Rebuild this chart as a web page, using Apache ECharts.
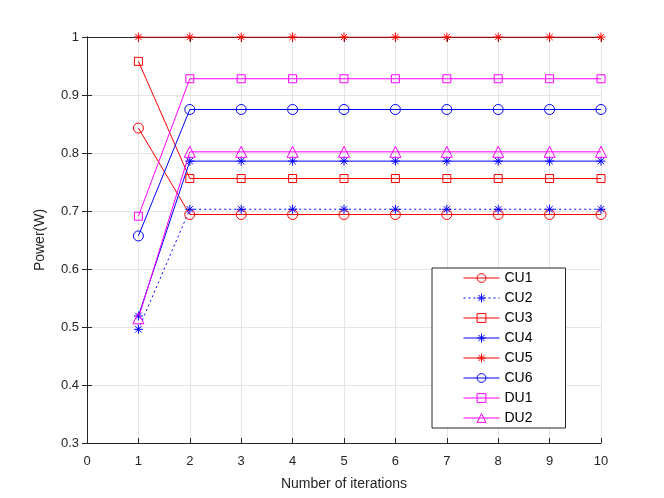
<!DOCTYPE html>
<html>
<head>
<meta charset="utf-8">
<script src="https://cdn.jsdelivr.net/npm/echarts@6/dist/echarts.min.js"></script>
<style>
  html, body { margin: 0; padding: 0; background: #fff; }
  #chart { width: 664px; height: 498px; }
</style>
</head>
<body>
<div id="chart"></div>
<script>
// iterations on the x axis
var iterations = [1, 2, 3, 4, 5, 6, 7, 8, 9, 10];

// power values
var cu1 = [0.843, 0.694, 0.694, 0.694, 0.694, 0.694, 0.694, 0.694, 0.694, 0.694];
var cu2 = [0.496, 0.703, 0.703, 0.703, 0.703, 0.703, 0.703, 0.703, 0.703, 0.703];
var cu3 = [0.958, 0.756, 0.756, 0.756, 0.756, 0.756, 0.756, 0.756, 0.756, 0.756];
var cu4 = [0.519, 0.786, 0.786, 0.786, 0.786, 0.786, 0.786, 0.786, 0.786, 0.786];
var cu5 = [1, 1, 1, 1, 1, 1, 1, 1, 1, 1];
var cu6 = [0.657, 0.875, 0.875, 0.875, 0.875, 0.875, 0.875, 0.875, 0.875, 0.875];
var du1 = [0.691, 0.928, 0.928, 0.928, 0.928, 0.928, 0.928, 0.928, 0.928, 0.928];
var du2 = [0.515, 0.802, 0.802, 0.802, 0.802, 0.802, 0.802, 0.802, 0.802, 0.802];

var xTicks = [0, 1, 2, 3, 4, 5, 6, 7, 8, 9, 10];
var yTicks = [0.3, 0.4, 0.5, 0.6, 0.7, 0.8, 0.9, 1];

var RED = '#ff0000', BLUE = '#0000ff', MAG = '#ff00ff';
var STAR = 'path://M5 0L5 10M0 5L10 5M1.5 1.5L8.5 8.5M8.5 1.5L1.5 8.5';
var FONT = 'Liberation Sans, Arial, Helvetica, sans-serif';

function pairs(vals) {
    return iterations.map(function (x, i) { return [x, vals[i]]; });
}

function mkSeries(name, vals, color, symbol, size, dotted) {
    var star = symbol === STAR;
    return {
        name: name,
        type: 'line',
        data: pairs(vals),
        symbol: symbol,
        symbolSize: size,
        showAllSymbol: true,
        animation: false,
        lineStyle: { color: color, width: 1, type: dotted ? [2, 3] : 'solid' },
        itemStyle: {
            color: star ? 'rgba(0,0,0,0)' : 'rgba(255,255,255,0)',
            borderColor: color,
            borderWidth: 1
        },
        emphasis: { disabled: true }
    };
}

var chart = echarts.init(document.getElementById('chart'));

var axisLine = { show: true, lineStyle: { color: '#262626', width: 1 } };
var tick = { show: true, inside: true, length: 5, lineStyle: { color: '#262626' } };

var option = {
    backgroundColor: '#fff',
    textStyle: { fontFamily: FONT },
    grid: { left: 87, right: 63, top: 37, bottom: 55 },
    legend: {
        orient: 'vertical',
        left: 432,
        top: 268,
        padding: [3, 33, 3, 31],
        itemGap: 6,
        itemWidth: 36,
        itemHeight: 11,
        backgroundColor: '#fff',
        borderColor: '#262626',
        borderWidth: 1,
        borderRadius: 0,
        lineStyle: { width: 1 },
        itemStyle: { borderWidth: 1 },
        textStyle: { fontSize: 14, color: '#000', fontFamily: FONT },
        data: ['CU1', 'CU2', 'CU3', 'CU4', 'CU5', 'CU6', 'DU1', 'DU2']
    },
    xAxis: [{
        type: 'value',
        min: xTicks[0],
        max: xTicks[xTicks.length - 1],
        interval: 1,
        name: 'Number of iterations',
        nameLocation: 'middle',
        nameGap: 34,
        nameTextStyle: { fontSize: 14, color: '#262626' },
        axisLine: axisLine,
        axisTick: tick,
        axisLabel: { fontSize: 13, color: '#262626', margin: 12 },
        splitLine: { show: true, lineStyle: { color: '#e5e5e5' } }
    }, {
        type: 'value',
        position: 'top',
        min: xTicks[0],
        max: xTicks[xTicks.length - 1],
        interval: 1,
        axisLine: axisLine,
        axisTick: tick,
        axisLabel: { show: false },
        splitLine: { show: false }
    }],
    yAxis: [{
        type: 'value',
        min: yTicks[0],
        max: yTicks[yTicks.length - 1],
        interval: 0.1,
        name: 'Power(W)',
        nameLocation: 'middle',
        nameGap: 40,
        nameTextStyle: { fontSize: 14, color: '#262626' },
        axisLine: axisLine,
        axisTick: tick,
        axisLabel: { fontSize: 13, color: '#262626', margin: 8,
            formatter: function (v) { return String(Math.round(v * 10) / 10); } },
        splitLine: { show: true, lineStyle: { color: '#e5e5e5' } }
    }, {
        type: 'value',
        position: 'right',
        min: yTicks[0],
        max: yTicks[yTicks.length - 1],
        interval: 0.1,
        axisLine: axisLine,
        axisTick: tick,
        axisLabel: { show: false },
        splitLine: { show: false }
    }],
    series: [
        mkSeries('CU1', cu1, RED, 'circle', 10, false),
        mkSeries('CU2', cu2, BLUE, STAR, 9, true),
        mkSeries('CU3', cu3, RED, 'rect', 8, false),
        mkSeries('CU4', cu4, BLUE, STAR, 9, false),
        mkSeries('CU5', cu5, RED, STAR, 9, false),
        mkSeries('CU6', cu6, BLUE, 'circle', 10, false),
        mkSeries('DU1', du1, MAG, 'rect', 8, false),
        mkSeries('DU2', du2, MAG, 'triangle', 11, false)
    ]
};

chart.setOption(option);
</script>
</body>
</html>
